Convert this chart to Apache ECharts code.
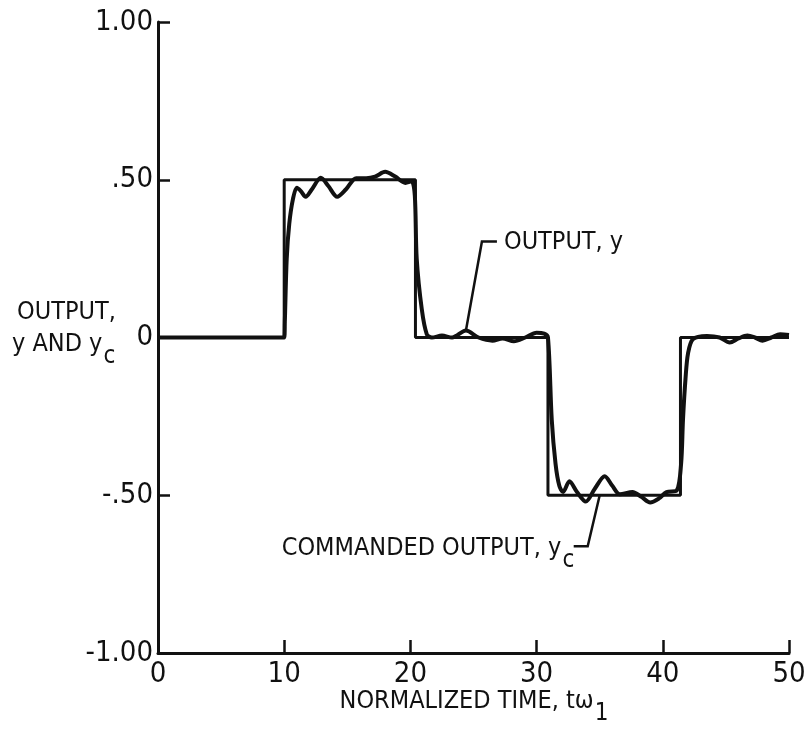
<!DOCTYPE html>
<html>
<head>
<meta charset="utf-8">
<script src="https://cdn.jsdelivr.net/npm/echarts@6/dist/echarts.min.js"></script>
<style>
html,body{margin:0;padding:0;background:#fff;}
#chart{width:805px;height:730px;}
</style>
</head>
<body>
<div id="chart"></div>
<script>
// ---- data ----
const commandedX = [0, 10, 10, 20.4, 20.4, 30.9, 30.9, 41.4, 41.4, 50];
const commandedY = [0, 0, 0.5, 0.5, 0, 0, -0.5, -0.5, 0, 0];

const outputX = [0, 10, 10.05, 10.2, 10.4, 10.7, 11.0, 11.3, 11.7, 12.2, 12.9, 13.5, 14.2, 14.9, 15.7, 16.5, 17.2, 18.0, 18.8, 19.6, 20.1, 20.35, 20.5, 20.9, 21.3, 21.7, 22.5, 23.3, 24.4, 25.4, 26.5, 27.3, 28.2, 29.1, 30.0, 30.6, 30.9, 31.2, 31.5, 31.8, 32.1, 32.6, 33.2, 33.9, 34.6, 35.4, 36.0, 36.6, 37.6, 38.3, 39.0, 39.7, 40.3, 41.1, 41.45, 41.6, 41.8, 42.0, 42.4, 43.5, 44.5, 45.3, 46.0, 46.7, 47.3, 47.9, 48.6, 49.3, 50];
const outputY = [0, 0, 0.05, 0.25, 0.36, 0.44, 0.475, 0.465, 0.446, 0.47, 0.506, 0.48, 0.446, 0.47, 0.505, 0.505, 0.51, 0.525, 0.51, 0.49, 0.495, 0.45, 0.25, 0.09, 0.01, 0.0, 0.006, 0.0, 0.022, 0.0, -0.01, -0.003, -0.012, 0.0, 0.015, 0.012, 0.0, -0.26, -0.40, -0.47, -0.49, -0.456, -0.49, -0.52, -0.48, -0.44, -0.47, -0.497, -0.49, -0.505, -0.523, -0.51, -0.49, -0.485, -0.4, -0.26, -0.13, -0.05, -0.005, 0.005, 0.0, -0.016, -0.003, 0.006, 0.0, -0.01, 0.0, 0.01, 0.008];

const xTicks = [0, 10, 20, 30, 40, 50];
const yTicks = [-1, -0.5, 0, 0.5, 1];
const yTickLabels = ['-1.00', '-.50', '0', '.50', '1.00'];

// annotation anchors (data coords)
const outputAnchor = [24.4, 0.022];
const commandedAnchor = [35.0, -0.5];
const xTitleAnchor = [25, -1];

// ---- chart ----
const FONT = "'Liberation Sans Narrow','DejaVu Sans Condensed',sans-serif";
const INK = '#111';
const TFONT = `25px ${FONT}`;
const chart = echarts.init(document.getElementById('chart'), null, {renderer: 'canvas'});

const zip = (xs, ys) => xs.map((x, i) => [x, ys[i]]);
const mctx = document.createElement('canvas').getContext('2d');
const measure = (t, f) => { mctx.font = f; return mctx.measureText(t).width; };

chart.setOption({
  animation: false,
  backgroundColor: '#fff',
  grid: {left: 158, right: 16, top: 22, bottom: 77, containLabel: false, outerBoundsMode: 'none'},
  xAxis: {
    type: 'value', min: 0, max: 50, interval: 10,
    axisLine: {show: true, onZero: false, lineStyle: {color: INK, width: 3}},
    axisTick: {show: true, inside: true, length: 13, lineStyle: {color: INK, width: 2.5}},
    splitLine: {show: false},
    axisLabel: {color: INK, fontFamily: FONT, fontSize: 29, margin: 7}
  },
  yAxis: {
    type: 'value', min: -1, max: 1, interval: 0.5,
    axisLine: {show: true, onZero: false, lineStyle: {color: INK, width: 3}},
    axisTick: {show: true, inside: true, length: 12, lineStyle: {color: INK, width: 2.5}},
    splitLine: {show: false},
    axisLabel: {color: INK, fontFamily: FONT, fontSize: 29, margin: 5,
      formatter: v => { const i = yTicks.findIndex(t => Math.abs(t - v) < 1e-9); return i >= 0 ? yTickLabels[i] : ''; }}
  },
  series: [
    {
      name: 'Commanded output', type: 'line', data: zip(commandedX, commandedY),
      showSymbol: false, symbol: 'none',
      lineStyle: {color: INK, width: 3}, z: 3
    },
    {
      name: 'Output', type: 'line', data: zip(outputX, outputY),
      showSymbol: false, symbol: 'none', smooth: 0.3,
      lineStyle: {color: INK, width: 4}, z: 4
    }
  ]
});

// annotations positioned from data coordinates
const pOut = chart.convertToPixel({gridIndex: 0}, outputAnchor);
const pCmd = chart.convertToPixel({gridIndex: 0}, commandedAnchor);
const pX = chart.convertToPixel({gridIndex: 0}, xTitleAnchor);

function txt(text, x, y, size) {
  return {type: 'text', x: x, y: y, z: 10,
    style: {text: text, font: `${size || 25}px ${FONT}`, fill: INK, verticalAlign: 'middle', align: 'left'}};
}
function withSub(main, sub, x, y) {
  const w = measure(main, TFONT);
  return [txt(main, x, y), txt(sub, x + w + 1, y + 13, 24)];
}

const xMain = 'NORMALIZED TIME, tω';
const xW = measure(xMain, TFONT) + measure('1', `24px ${FONT}`);
const cmdMain = 'COMMANDED OUTPUT, y';

chart.setOption({
  graphic: [].concat(
    withSub(xMain, '1', pX[0] - xW / 2, pX[1] + 48),
    [txt('OUTPUT,', 17, 312)],
    withSub('y AND y', 'c', 12, 344),
    [{type: 'polyline', shape: {points: [pOut, [pOut[0] + 16, pOut[1] - 89], [pOut[0] + 31, pOut[1] - 89]]},
      style: {stroke: INK, lineWidth: 2.5, fill: null}}],
    [txt('OUTPUT, y', pOut[0] + 38, pOut[1] - 88)],
    [{type: 'polyline', shape: {points: [pCmd, [pCmd[0] - 12, pCmd[1] + 51], [pCmd[0] - 26, pCmd[1] + 51]]},
      style: {stroke: INK, lineWidth: 2.5, fill: null}}],
    withSub(cmdMain, 'c', pCmd[0] - 318, pCmd[1] + 53)
  )
});
</script>
</body>
</html>
